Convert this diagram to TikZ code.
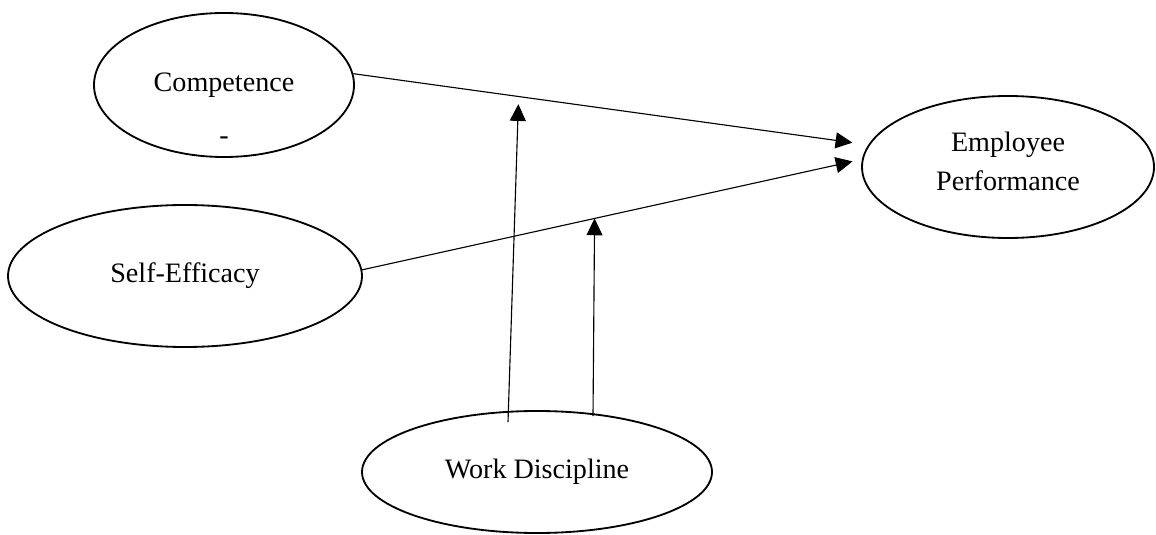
\documentclass[tikz,border=0pt]{standalone}
\usepackage{fontspec}
\setmainfont{Liberation Serif}
\usetikzlibrary{arrows.meta,shapes.geometric,calc}

\begin{document}
\begin{tikzpicture}[
      var/.style={draw,ellipse,line width=1.3pt,inner sep=0pt,align=center,
                  font=\fontsize{20}{27.5}\selectfont},
      arr/.style={-{Triangle[length=4.2mm,width=4mm]},line width=0.8pt}]
    \useasboundingbox (0,0) rectangle (28.9,-13.375);
    \node[var,minimum width=6.5cm,minimum height=3.6cm] (comp) at (5.6,-2.125) {Competence};
    \node[font=\fontsize{20}{24}\selectfont] (compdash) at ([yshift=-1.4cm]comp.center) {-};
    \node[var,minimum width=7.3cm,minimum height=3.55cm,text depth=0.3cm] (emp) at (25.2,-4.175) {Employee\\ Performance};
    \node[var,minimum width=8.85cm,minimum height=3.55cm] (self) at (4.625,-6.9) {Self-Efficacy};
    \node[var,minimum width=8.75cm,minimum height=3.05cm] (work) at (13.425,-11.8) {Work Discipline};
    \draw[arr,shorten >=0.4cm] (comp.5) -- (emp.171);
    \draw[arr,shorten >=0.24cm] (self.2) -- (emp.177);
    % moderating paths onto the two lines
    \coordinate (onComp) at ($(comp.5)!0.321!(emp.171)$);
    \coordinate (onSelf) at ($(self.2)!0.465!(emp.177)$);
    \draw[arr,shorten >=0.19cm] ($(work.north)+(-0.725,-0.3)$) -- (onComp);
    \draw[arr] ($(work.north)+(1.4,-0.15)$) -- (onSelf);
  \end{tikzpicture}
\end{document}
